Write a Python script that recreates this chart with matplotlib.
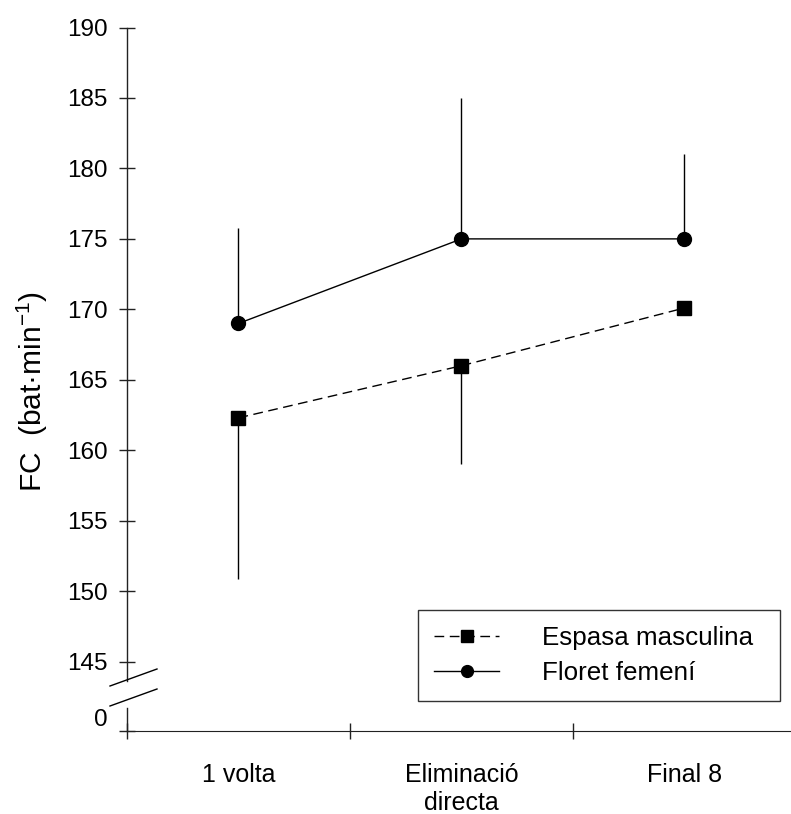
import matplotlib
matplotlib.use("Agg")
import matplotlib.pyplot as plt
from matplotlib.lines import Line2D

plt.rcParams['font.family'] = ['Liberation Sans', 'DejaVu Sans']
plt.rcParams['mathtext.fontset'] = 'custom'
plt.rcParams['mathtext.rm'] = 'Liberation Sans'
plt.rcParams['mathtext.it'] = 'Liberation Sans:italic'

# fases de la competició
fases = ["1 volta", "Eliminació\ndirecta", "Final 8"]

# FC mitjana i desviació (bat·min-1)
espasa_mitjana = [162.3, 166.0, 170.1]
espasa_sd = [11.4, 7.0, 0.0]
floret_mitjana = [169.0, 175.0, 175.0]
floret_sd = [6.8, 10.0, 6.0]

yticks = [145, 150, 155, 160, 165, 170, 175, 180, 185, 190]

# eix tallat: el 0 es dibuixa sota el tall
Y_MIN = 140.08
Y_ZERO = 141.07
TALL_SUP = 143.66
TALL_INF = 141.74

W, H = 791, 814
fig = plt.figure(figsize=(W / 100, H / 100), dpi=100)
ax = fig.add_axes([127 / W, (H - 731) / H, (796 - 127) / W, (731 - 27.5) / H])

x = list(range(len(fases)))

ax.errorbar(x, floret_mitjana, yerr=[[0] * 3, floret_sd], fmt='none',
            ecolor='black', elinewidth=1, capsize=0, zorder=2)
ax.errorbar(x, espasa_mitjana, yerr=[espasa_sd, [0] * 3], fmt='none',
            ecolor='black', elinewidth=1, capsize=0, zorder=2)

ax.plot(x, espasa_mitjana, color='black', lw=1, dashes=(7, 4),
        marker='s', ms=9.4, mfc='black', mec='black', zorder=3,
        label='Espasa masculina')
ax.plot(x, floret_mitjana, color='black', lw=1, marker='o', ms=10,
        mfc='black', mec='black', zorder=3, label='Floret femení')

ax.set_xlim(-0.5, 2.5)
ax.set_ylim(Y_MIN, 190)

for s in ['top', 'right', 'left']:
    ax.spines[s].set_visible(False)
ax.spines['bottom'].set_color('#222222')

# eix Y en dos trossos
ax.plot([-0.5, -0.5], [TALL_SUP, 190], color='#222222', lw=1,
        clip_on=False, zorder=4)
ax.plot([-0.5, -0.5], [Y_MIN, TALL_INF], color='#222222', lw=1,
        clip_on=False, zorder=4)

# marques del tall
for y0, y1 in [(686, 669), (706, 689)]:
    fig.add_artist(Line2D([110 / W, 157 / W], [1 - y0 / H, 1 - y1 / H],
                          color='black', lw=1))

ax.set_yticks([Y_ZERO] + yticks)
ax.set_yticklabels(["0"] + [str(v) for v in yticks])
ax.yaxis.get_major_ticks()[0].tick1line.set_visible(False)
ax.set_yticks([Y_MIN], minor=True)
ax.tick_params(axis='y', which='both', direction='inout', length=11.5,
               width=1, color='#222222', labelsize=17.5, pad=8)

ax.set_xticks([-0.5, 0.5, 1.5, 2.5])
ax.set_xticklabels([])
ax.set_xticks(x, minor=True)
ax.set_xticklabels(fases, minor=True)
ax.tick_params(axis='x', which='major', direction='inout', length=11.5,
               width=1, color='#222222')
ax.tick_params(axis='x', which='minor', length=0, labelsize=18, pad=23)

fig.text(32 / W, 1 - 391 / H, "FC  (bat·min$^{-1}$)", rotation=90,
         ha='center', va='center', fontsize=21.5)

leg = ax.legend(loc='upper left',
                bbox_to_anchor=(418 / W, 1 - 699 / H, 362 / W, 89 / H),
                bbox_transform=fig.transFigure, mode='expand',
                fontsize=18.75, numpoints=1,
                handlelength=2.5, handletextpad=1.65, borderpad=0.62,
                labelspacing=0.42, borderaxespad=0, fancybox=False,
                framealpha=1, markerscale=0.85)
leg.get_frame().set_edgecolor('#333333')
leg.get_frame().set_linewidth(1)

fig.savefig("out.png", dpi=100)
